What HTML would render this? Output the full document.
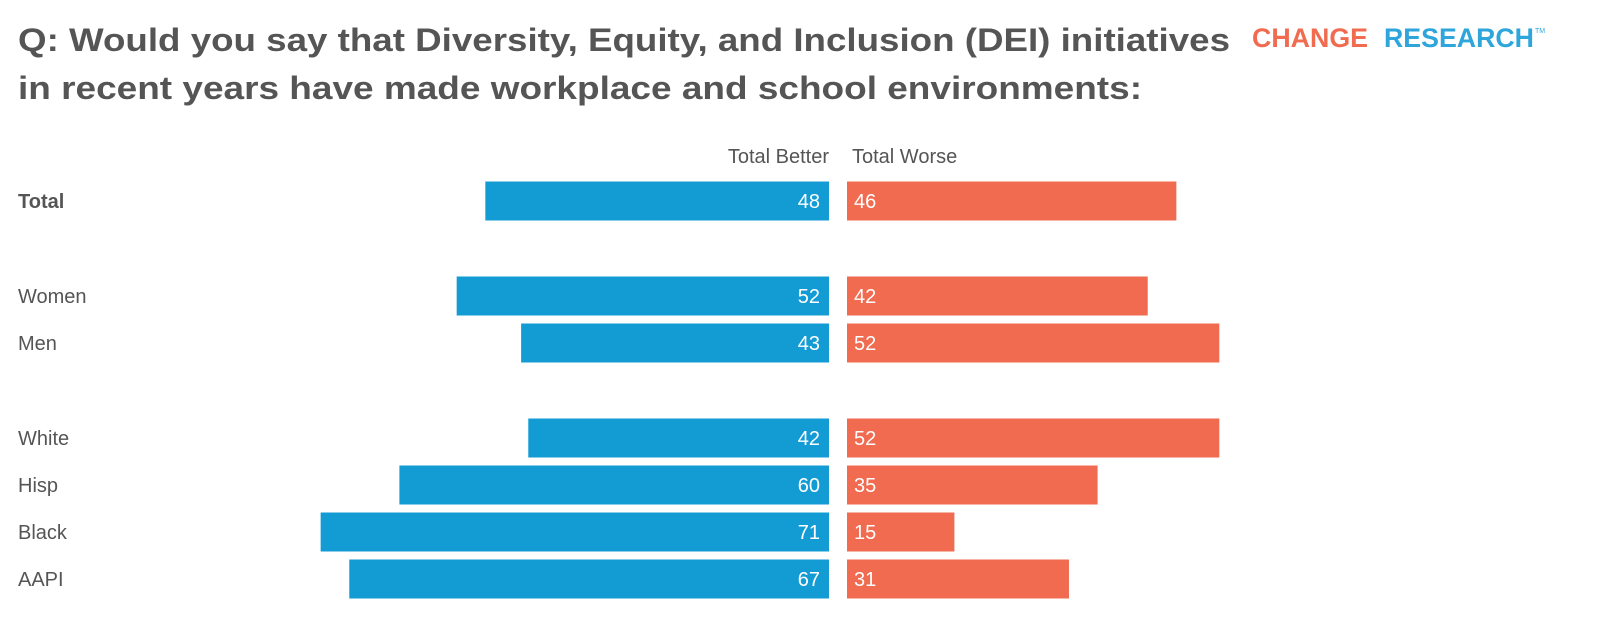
<!DOCTYPE html>
<html><head><meta charset="utf-8"><style>
body{margin:0;background:#fff;width:1600px;height:630px;overflow:hidden;font-family:"Liberation Sans",sans-serif;}
</style></head><body>
<svg id="chart" width="1600" height="630" xmlns="http://www.w3.org/2000/svg" font-family="Liberation Sans, sans-serif">
<text x="18" y="51" font-size="32" font-weight="bold" fill="#555" textLength="1212" lengthAdjust="spacingAndGlyphs">Q: Would you say that Diversity, Equity, and Inclusion (DEI) initiatives</text>
<text x="18" y="99" font-size="32" font-weight="bold" fill="#555" textLength="1124" lengthAdjust="spacingAndGlyphs">in recent years have made workplace and school environments:</text>
<g>
<text x="1252" y="47" font-size="27" font-weight="bold" fill="#f06b4f" textLength="116" lengthAdjust="spacingAndGlyphs">CHANGE</text>
<text x="1384" y="47" font-size="27" font-weight="bold" fill="#2ea6dc" textLength="150" lengthAdjust="spacingAndGlyphs">RESEARCH</text>
<text x="1535" y="33" font-size="7" fill="#2ea6dc">TM</text>
</g>
<text x="829" y="163" font-size="20" fill="#555" text-anchor="end">Total Better</text>
<text x="852" y="163" font-size="20" fill="#555">Total Worse</text>
<g id="bars"></g>
</svg>
<script>
const categories=["Total","Women","Men","White","Hisp","Black","AAPI"];
const better=[48,52,43,42,60,71,67];
const worse=[46,42,52,52,35,15,31];
const rowCenters=[201,296,343,438,485,532,579];
const scale=7.16, mid=829, wStart=847, bh=39;
const g=document.getElementById('bars');
const NS='http://www.w3.org/2000/svg';
function mk(t,a){const e=document.createElementNS(NS,t);for(const k in a)e.setAttribute(k,a[k]);return e;}
categories.forEach((c,i)=>{
  const y=rowCenters[i];
  const lab=mk('text',{x:18,y:y+7,'font-size':20,fill:'#555','font-weight':i===0?'bold':'normal'});
  lab.textContent=c;
  
  
  g.appendChild(lab);
  const bw=better[i]*scale;
  const b=mk('rect',{x:mid-bw,y:y-bh/2,width:bw,height:bh,fill:'#139bd4'});
  
  
  g.appendChild(b);
  const bt=mk('text',{x:mid-9,y:y+7,'font-size':20,fill:'#fff','text-anchor':'end'});
  bt.textContent=better[i];
  
  
  g.appendChild(bt);
  const ww=worse[i]*scale;
  const w=mk('rect',{x:wStart,y:y-bh/2,width:ww,height:bh,fill:'#f06b4f'});
  
  
  g.appendChild(w);
  const wt=mk('text',{x:wStart+7,y:y+7,'font-size':20,fill:'#fff'});
  wt.textContent=worse[i];
  
  
  g.appendChild(wt);
});
</script>
</body></html>
